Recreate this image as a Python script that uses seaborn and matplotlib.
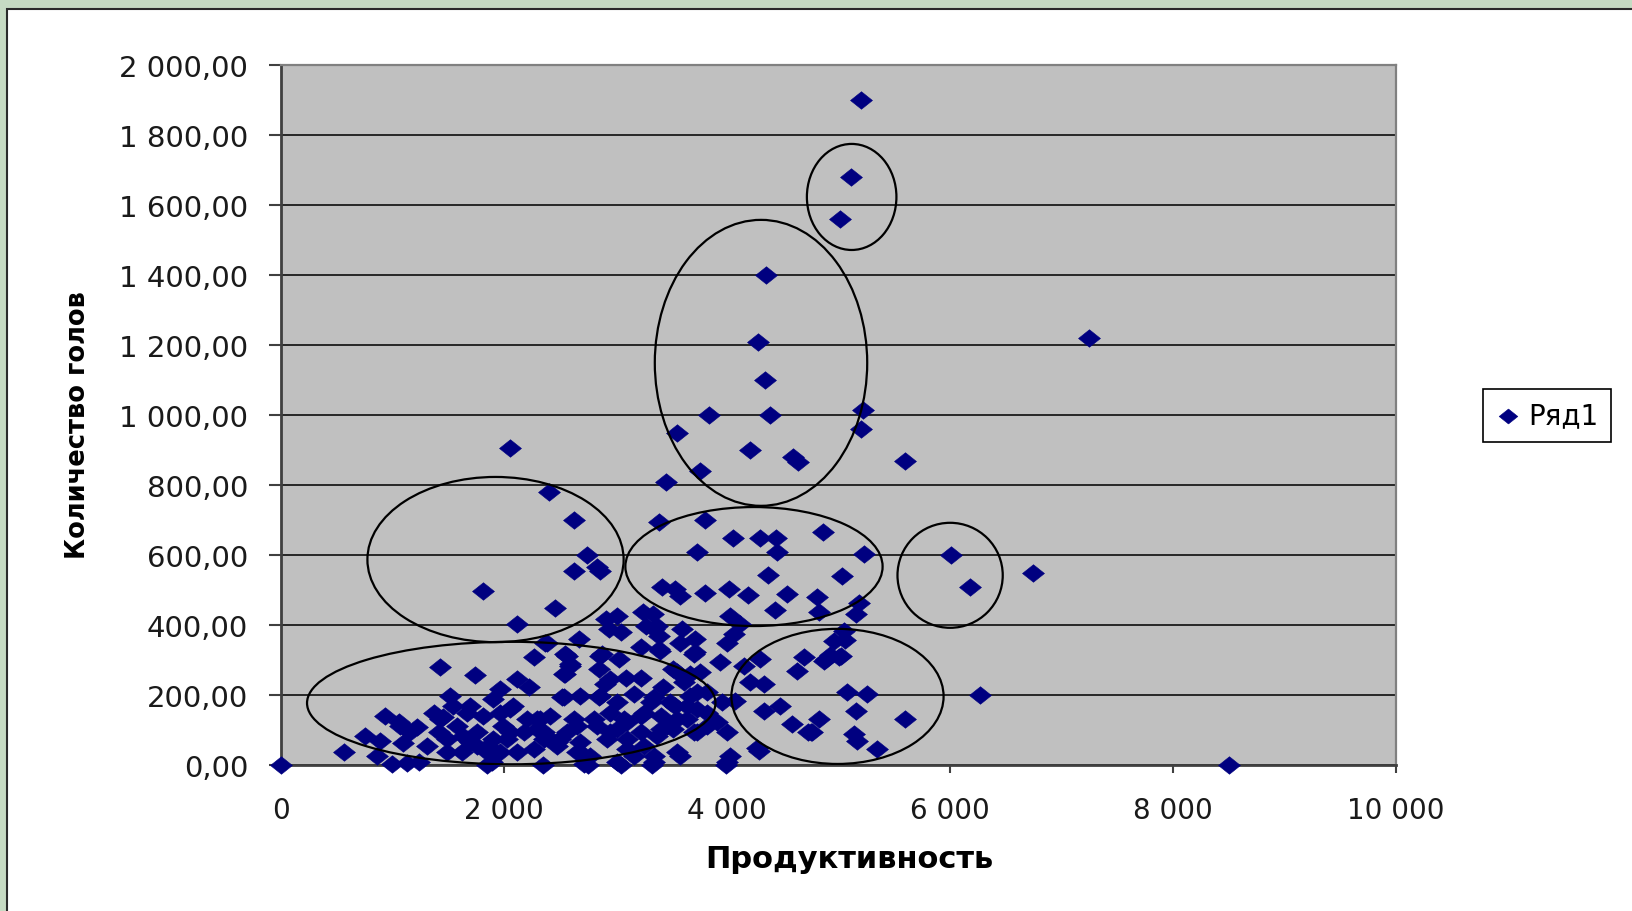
import matplotlib
matplotlib.use("Agg")
import matplotlib.pyplot as plt
from matplotlib.patches import Ellipse, Rectangle
from matplotlib.path import Path
from matplotlib.markers import MarkerStyle
import pandas as pd
import seaborn as sns

# productivity (x) and number of heads (y)
prod = [
    0, 5200, 5110, 5015, 4350, 4280, 4345, 7250, 5220, 5200,
    3840, 4390, 3550, 4210, 4590, 4640, 5600, 2055, 3760, 3450,
    2400, 2630, 3390, 3800, 4860, 4050, 4300, 4435, 2745, 2835,
    2865, 2630, 3730, 4445, 5230, 6010, 6180, 6745, 4370, 5035,
    1815, 3415, 3535, 3580, 3800, 4015, 4190, 4540, 4810, 5185,
    5155, 4430, 4025, 4825, 3015, 3340, 2460, 2115, 6270, 8500,
    3045, 3375, 3390, 3600, 3580, 3715, 3715, 4120, 4060, 4000,
    2670, 2370, 2550, 2595, 2550, 2850, 2880, 3030, 3225, 3390,
    2910, 3090, 3225, 3430, 3550, 3610, 3730, 3940, 4150, 4300,
    4210, 4330, 4690, 4630, 4870, 5050, 4960, 5020, 4885, 5080,
    5260, 4920, 5005, 5060, 2915, 2945, 3245, 3275, 3345, 3395,
    3700, 2565, 2595, 2865, 2535, 2955, 3520, 3670, 3760, 2265,
    1430, 1740, 1965, 2115, 2220, 2385,
    5155, 5600, 4825, 4765, 5140, 5170, 5345, 4730, 4580, 4475,
    4330, 4270, 3990, 2520, 2685, 2850, 3165, 3015, 3315, 2955,
    3075, 3225, 3405, 3535, 3640, 3730, 3955, 4075, 4750, 2325,
    2355, 2415, 2475, 2565, 2625, 2655, 2685, 2775, 2835, 2925,
    3015, 3105, 3165, 3225, 3255, 3345, 3375, 3460, 3520, 3580,
    3640, 3730, 3820, 3910, 4000, 4030, 4000, 4285, 3015, 3345,
    2715, 566, 755, 885, 935, 995, 1055, 1090, 860, 1145,
    1220, 1235, 1310, 1370, 1520, 1455, 1415, 1490, 1575, 1620,
    1695, 1755, 1815, 1860, 1890, 1995, 2055, 2025, 2175, 2295,
    2355, 2475, 2115, 1965, 1695, 2535, 2865, 3345, 3490, 3670,
    3820, 1070, 1160, 1430, 1545, 1665, 1905, 1965, 2085, 1635,
    1755, 1905, 2055, 2205, 2295, 2415, 2505, 2655, 2805, 2955,
    3105, 3255, 3405, 3555, 3700, 3820, 1485, 1845, 2265, 2685,
    3105, 3550, 1130, 1850, 2350, 2750, 3050, 3330,
]
heads = [
    0, 1900, 1680, 1560, 1400, 1210, 1100, 1220, 1015, 960,
    1000, 1000, 950, 900, 880, 865, 870, 905, 840, 810,
    780, 700, 695, 700, 665, 650, 650, 650, 600, 565,
    555, 553, 610, 608, 603, 600, 508, 550, 543, 540,
    498, 510, 503, 482, 491, 503, 486, 489, 481, 463,
    431, 444, 427, 436, 427, 431, 450, 402, 200, 0,
    379, 398, 370, 389, 350, 360, 322, 403, 374, 350,
    360, 350, 317, 289, 260, 274, 317, 303, 336, 331,
    231, 250, 250, 222, 265, 236, 208, 293, 284, 303,
    236, 231, 308, 270, 298, 384, 355, 312, 303, 208,
    203, 315, 309, 357, 417, 389, 436, 398, 389, 327,
    317, 312, 284, 312, 260, 246, 274, 260, 265, 308,
    279, 257, 217, 246, 222, 350,
    155, 131, 131, 93, 89, 70, 46, 95, 116, 170,
    155, 48, 0, 193, 198, 193, 203, 179, 179, 150,
    131, 141, 141, 170, 170, 160, 179, 184, 93, 131,
    93, 74, 55, 93, 131, 36, 65, 27, 112, 74,
    103, 74, 27, 93, 55, 27, 84, 112, 103, 27,
    131, 93, 112, 122, 93, 27, 8, 41, 8, 8,
    3, 36, 84, 70, 141, 3, 122, 63, 27, 98,
    108, 8, 55, 150, 198, 136, 93, 74, 112, 36,
    170, 93, 141, 55, 8, 112, 160, 74, 93, 131,
    74, 65, 36, 36, 65, 193, 198, 193, 179, 198,
    208, 112, 93, 131, 170, 150, 189, 150, 170, 84,
    55, 74, 93, 131, 103, 141, 74, 112, 131, 93,
    122, 150, 103, 131, 93, 150, 36, 36, 46, 36,
    46, 36, 5, 0, 0, 0, 0, 0,
]

x_ticks = [0, 2000, 4000, 6000, 8000, 10000]
x_tick_labels = ["0", "2 000", "4 000", "6 000", "8 000", "10 000"]
y_ticks = [0, 200, 400, 600, 800, 1000, 1200, 1400, 1600, 1800, 2000]
y_tick_labels = ["0,00", "200,00", "400,00", "600,00", "800,00", "1 000,00",
                 "1 200,00", "1 400,00", "1 600,00", "1 800,00", "2 000,00"]

# hand drawn rings: centre x, centre y, width, height (data units)
rings = [
    (5118, 1623, 803, 303),
    (4305, 1149, 1905, 817),
    (1924, 587, 2298, 472),
    (4242, 567, 2307, 340),
    (6001, 542, 944, 300),
    (2065, 177, 3663, 350),
    (4991, 196, 1903, 386),
]

plt.rcParams['font.family'] = ['DejaVu Sans']

df = pd.DataFrame({'x': prod, 'y': heads})

fig = plt.figure(figsize=(16.32, 9.12), dpi=100, facecolor='#c6dbc3')
fig.add_artist(Rectangle((7 / 1632, -0.01), 1.0, 1 - 10 / 912 + 0.01,
                         transform=fig.transFigure, facecolor='white',
                         edgecolor='#2b2b2b', linewidth=1.5, zorder=0))

ax = fig.add_axes([281 / 1632, 1 - 766 / 912, 1115 / 1632, 700 / 912])
ax.set_facecolor('#c0c0c0')

diamond = MarkerStyle(Path([(-1, 0), (0, 0.8), (1, 0), (0, -0.8), (-1, 0)], closed=True))
sns.scatterplot(data=df, x='x', y='y', ax=ax, marker=diamond, s=250,
                color='#000080', edgecolor='#000080', linewidth=0.4,
                label='Ряд1', clip_on=False, zorder=3)

for cx, cy, w, h in rings:
    ax.add_patch(Ellipse((cx, cy), w, h, fill=False, edgecolor='black',
                         linewidth=1.6, zorder=4))

ax.set_xlim(0, 10000)
ax.set_ylim(0, 2000)
ax.set_xticks(x_ticks)
ax.set_xticklabels(x_tick_labels, fontsize=20, color='#1a1a1a')
ax.set_yticks(y_ticks)
ax.set_yticklabels(y_tick_labels, fontsize=21, color='#1a1a1a')
ax.tick_params(axis='y', direction='out', length=8.6, width=1.5, color='#404040', pad=15)
ax.tick_params(axis='x', direction='out', length=6, width=1.5, color='#404040', pad=16)
ax.yaxis.grid(True, color='#1a1a1a', linewidth=1.3)
ax.xaxis.grid(False)
ax.set_axisbelow(True)
for side in ['left', 'bottom']:
    ax.spines[side].set_color('#404040')
    ax.spines[side].set_linewidth(2)
for side in ['top', 'right']:
    ax.spines[side].set_color('#808080')
    ax.spines[side].set_linewidth(1.6)

ax.set_xlabel('Продуктивность', fontsize=22, fontweight='bold', va='center')
ax.xaxis.set_label_coords(0.51, -0.134)
ax.set_ylabel('Количество голов', fontsize=18.5, fontweight='bold', va='center')
ax.yaxis.set_label_coords(-0.182, 0.487)

leg = ax.legend(loc='center', bbox_to_anchor=(1547 / 1632, 1 - 416 / 912),
                bbox_transform=fig.transFigure, fontsize=20, frameon=True,
                fancybox=False, edgecolor='black', framealpha=1,
                handlelength=0.9, handletextpad=0.3, borderpad=0.45, markerscale=0.85)
leg.get_frame().set_linewidth(1.2)

fig.savefig('out.png', dpi=100, facecolor=fig.get_facecolor())
